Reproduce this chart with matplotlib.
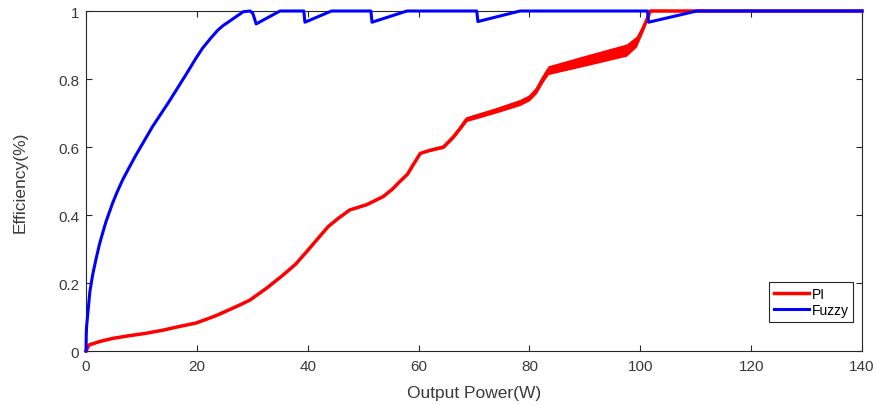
import matplotlib
matplotlib.use("Agg")
import matplotlib.pyplot as plt
import numpy as np

plt.rcParams['font.family'] = ['Liberation Sans', 'DejaVu Sans']

# PI controller curve (centre line) and ripple half-width
pi_x = [0, 0.3, 0.6, 2.5, 4.8, 7.8, 10.8, 13.8, 16.8, 19.8, 22.0, 23.6,
        25.8, 27.7, 29.6, 32.6, 35.6, 37.8, 39.8, 41.8, 43.7, 45.5, 47.6,
        50.6, 53.6, 55.2, 56.6, 58.0, 59.0, 60.3, 62.0, 64.5, 66.3, 67.5,
        68.7, 73.8, 78.3, 80.0, 81.3, 82.4, 83.4, 90.8, 97.5, 99.3, 100.5,
        101.2, 101.8, 140]
pi_y = [0, 0.01, 0.018, 0.028, 0.037, 0.045, 0.052, 0.061, 0.072, 0.082,
        0.095, 0.105, 0.121, 0.135, 0.15, 0.185, 0.224, 0.255, 0.292, 0.33,
        0.366, 0.39, 0.415, 0.43, 0.454, 0.475, 0.498, 0.52, 0.547, 0.581,
        0.59, 0.60, 0.63, 0.655, 0.682, 0.707, 0.731, 0.745, 0.768, 0.80,
        0.826, 0.857, 0.885, 0.91, 0.949, 0.975, 1.0, 1.0]
pi_rip = [0, 0, 0, 0, 0, 0, 0, 0, 0, 0, 0, 0, 0, 0, 0, 0, 0, 0, 0, 0, 0, 0,
          0, 0, 0, 0, 0, 0, 0, 0, 0.003, 0.004, 0.005, 0.005, 0.007, 0.008,
          0.009, 0.009, 0.01, 0.011, 0.013, 0.016, 0.018, 0.016, 0.01,
          0.005, 0, 0]

# Fuzzy controller curve
fz_x = [0, 0.05, 0.1, 0.3, 0.7, 1.2, 1.8, 2.4, 3.0, 3.6, 4.3, 4.8, 5.6, 6.6,
        7.8, 9.0, 10.5, 12.0, 13.5, 15.0, 16.5, 18.0, 19.8, 21.0, 22.5,
        23.8, 24.8, 25.2, 26.6, 28.4, 29.6, 30.1, 30.7, 35.0, 39.3, 39.5,
        44.3, 51.4, 51.6, 57.9, 70.5, 70.7, 78.3, 101.3, 101.5, 110.2, 140]
fz_y = [0, 0.05, 0.07, 0.106, 0.175, 0.224, 0.27, 0.312, 0.347, 0.38, 0.412,
        0.435, 0.467, 0.503, 0.54, 0.576, 0.618, 0.66, 0.697, 0.734, 0.773,
        0.812, 0.86, 0.89, 0.92, 0.944, 0.958, 0.962, 0.978, 0.998, 1.0,
        0.993, 0.962, 1.0, 1.0, 0.967, 1.0, 1.0, 0.967, 1.0, 1.0, 0.969, 1.0,
        1.0, 0.967, 1.0, 1.0]

edge = '#262626'

fig = plt.figure(figsize=(8.76, 4.06), dpi=100)
ax = fig.add_axes([86 / 876, 1 - 352 / 406, 776 / 876, 340 / 406])

pi_y_arr = np.array(pi_y)
pi_rip_arr = np.array(pi_rip)
ax.fill_between(pi_x, pi_y_arr - pi_rip_arr, pi_y_arr + pi_rip_arr,
                color='#ff0000', lw=0, zorder=2)
ax.plot(pi_x, pi_y, color='#ff0000', lw=2.5, label='PI', clip_on=False,
        zorder=3, solid_joinstyle='round')
ax.plot(fz_x, fz_y, color='#0000ff', lw=2.2, label='Fuzzy', clip_on=False,
        zorder=4, solid_joinstyle='round')

ax.set_xlim(0, 140)
ax.set_ylim(0, 1)
ax.set_xticks(np.arange(0, 141, 20))
ax.set_yticks([0, 0.2, 0.4, 0.6, 0.8, 1])
ax.set_yticklabels(['0', '0.2', '0.4', '0.6', '0.8', '1'])

for s in ax.spines.values():
    s.set_color(edge)
    s.set_linewidth(0.8)
ax.tick_params(direction='in', length=4, width=0.8, color=edge,
               labelcolor='#3a3a3a', labelsize=11, top=True, right=True)
ax.tick_params(axis='x', pad=6)
ax.tick_params(axis='y', pad=5)

ax.set_xlabel('Output Power(W)', fontsize=12.5, color='#3a3a3a')
ax.set_ylabel('Efficiency(%)', fontsize=12.5, color='#3a3a3a')
ax.xaxis.set_label_coords(0.5, -0.1)
ax.yaxis.set_label_coords(-0.075, 0.5)

leg = ax.legend(loc='lower right', bbox_to_anchor=(0.9888, 0.086),
                borderaxespad=0, fontsize=10, handlelength=2.5,
                handletextpad=0.2, borderpad=0.35, labelspacing=0.15,
                fancybox=False, framealpha=1)
leg.get_frame().set_edgecolor(edge)
leg.get_frame().set_linewidth(0.8)

fig.savefig('out.png', dpi=100)
